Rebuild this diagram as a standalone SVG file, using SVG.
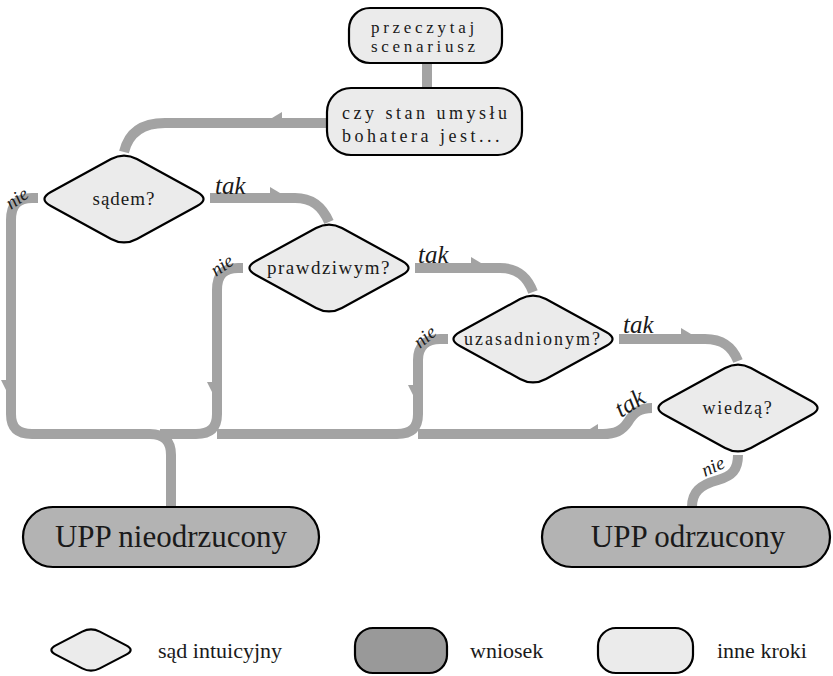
<svg xmlns="http://www.w3.org/2000/svg" width="833" height="676" viewBox="0 0 833 676" font-family="'Liberation Serif', 'DejaVu Serif', 'Noto Serif', serif">
<style>
.edge{fill:none;stroke:#a3a3a3;stroke-width:10}
.barb{fill:#a3a3a3}
.dia{fill:#ebebeb;stroke:#000;stroke-width:2.2}
.box{fill:#ebebeb;stroke:#000;stroke-width:2.2}
.end{fill:#b3b3b3;stroke:#000;stroke-width:2.2}
text{font-family:'Liberation Serif','DejaVu Serif','Noto Serif',serif;fill:#1a1a1a}
.sp{font-size:17px;letter-spacing:3.7px}
.q{font-size:19px;text-anchor:middle}
.big{font-size:31px;text-anchor:middle}
.lab{font-style:italic}
.leg{font-size:22px}
</style>
<defs>
<path id="dm" d="M -73.1,7.05 Q -86,0 -73.1,-7.05 L -12.9,-39.95 Q 0,-47 12.9,-39.95 L 73.1,-7.05 Q 86,0 73.1,7.05 L 12.9,39.95 Q 0,47 -12.9,39.95 Z"/>
</defs>
<g id="connectors">
<path class="edge" d="M 427,63 L 427,88"/>
<path class="edge" d="M 327,123 L 165,123 C 140,123 128,135 124,152"/>
<path class="edge" d="M 210,198 L 295,198 C 312,198 322,206 329,222"/>
<path class="edge" d="M 415,268 L 500,268 C 517,268 527,276 533,292"/>
<path class="edge" d="M 619,339 L 705,339 C 722,339 732,346 738,361"/>
<path class="edge" d="M 38,198 L 32,198 C 18,198 11,205 11,220 L 11,414 C 11,428 18,434 32,434 L 150,434 C 164,434 171,441 171,455 L 171,507"/>
<path class="edge" d="M 243,268 L 238,268 C 224,268 217,275 217,290 L 217,414 C 217,428 210,434 196,434 L 160,434"/>
<path class="edge" d="M 448,339 L 440,339 C 426,339 418,346 418,360 L 418,414 C 418,428 411,434 397,434 L 217,434"/>
<path class="edge" d="M 652,408 C 640,408 634,412 628,422 C 622,431 615,434 603,434 L 418,434"/>
<path class="edge" d="M 738,455 C 738,470 732,476 718,480 C 700,485 692,492 692,507"/>
<polygon class="barb" points="272,118 282,112 282,118"/>
<polygon class="barb" points="270,193 270,187 280,193"/>
<polygon class="barb" points="471,263 471,257 481,263"/>
<polygon class="barb" points="681,334 681,328 691,334"/>
<polygon class="barb" points="6,380 1,380 6,390"/>
<polygon class="barb" points="212,382 207,382 212,392"/>
<polygon class="barb" points="413,385 408,385 413,395"/>
<polygon class="barb" points="590,429 598,424 598,429"/>
<text class="lab" x="215" y="194" font-size="25">tak</text>
<text class="lab" x="418" y="263" font-size="25">tak</text>
<text class="lab" x="623" y="333" font-size="25">tak</text>
<text class="lab" font-size="25" transform="translate(621,418) rotate(-32)">tak</text>
<text class="lab" font-size="19" transform="translate(11,210) rotate(-35)">nie</text>
<text class="lab" font-size="19" transform="translate(216,277) rotate(-35)">nie</text>
<text class="lab" font-size="19" transform="translate(420,349) rotate(-40)">nie</text>
<text class="lab" font-size="19" transform="translate(705,477) rotate(-25)">nie</text>
</g>
<g id="n_przeczytaj">
<rect class="box" x="349" y="8" width="153" height="55" rx="21"/>
<text class="sp" x="371" y="33">przeczytaj</text>
<text class="sp" x="371" y="52">scenariusz</text>
</g>
<g id="n_czystan">
<rect class="box" x="327" y="88" width="195" height="67" rx="24"/>
<text class="sp" x="342" y="119" style="font-size:18px;letter-spacing:3.5px">czy stan umysłu</text>
<text class="sp" x="342" y="142" style="font-size:18px;letter-spacing:3.5px">bohatera jest...</text>
</g>
<g id="n_sadem">
<use href="#dm" class="dia" transform="translate(124,199)"/>
<text class="q" x="124" y="205" style="letter-spacing:1px">sądem?</text>
</g>
<g id="n_prawdziwym">
<use href="#dm" class="dia" transform="translate(329,268)"/>
<text class="q" x="329" y="274" style="letter-spacing:1.5px">prawdziwym?</text>
</g>
<g id="n_uzasadnionym">
<use href="#dm" class="dia" transform="translate(533,339)"/>
<text class="q" x="533" y="345" style="font-size:18px;letter-spacing:2px">uzasadnionym?</text>
</g>
<g id="n_wiedza">
<use href="#dm" class="dia" transform="translate(738,408)"/>
<text class="q" x="738" y="414" style="font-size:18px;letter-spacing:1.7px">wiedzą?</text>
</g>
<g id="n_nieodrzucony">
<rect class="end" x="23" y="507" width="296" height="60" rx="30"/>
<text class="big" x="171" y="547">UPP nieodrzucony</text>
</g>
<g id="n_odrzucony">
<rect class="end" x="542" y="507" width="288" height="60" rx="30"/>
<text class="big" x="688" y="547">UPP odrzucony</text>
</g>
<g id="legend">
<path class="dia" d="M 55.8,654.6 Q 47,650 55.8,645.4 L 82.2,631.6 Q 91,627 99.8,631.6 L 126.2,645.4 Q 135,650 126.2,654.6 L 99.8,668.4 Q 91,673 82.2,668.4 Z"/>
<text class="leg" x="158" y="658">sąd intuicyjny</text>
<rect x="355" y="628" width="92" height="45" rx="18" fill="#999" stroke="#000" stroke-width="2.2"/>
<text class="leg" x="470" y="658">wniosek</text>
<rect class="box" x="598" y="628" width="95" height="45" rx="18"/>
<text class="leg" x="717" y="658">inne kroki</text>
</g>
</svg>
